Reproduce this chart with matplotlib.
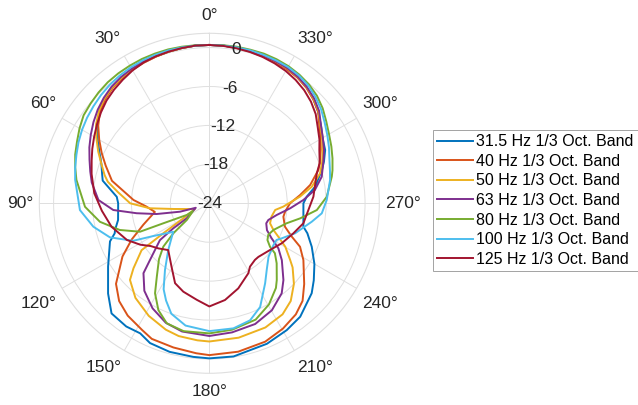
import numpy as np
import matplotlib.pyplot as plt

plt.rcParams['font.family'] = ['Liberation Sans', 'DejaVu Sans']

bands = ["31.5 Hz 1/3 Oct. Band", "40 Hz 1/3 Oct. Band", "50 Hz 1/3 Oct. Band",
         "63 Hz 1/3 Oct. Band", "80 Hz 1/3 Oct. Band", "100 Hz 1/3 Oct. Band",
         "125 Hz 1/3 Oct. Band"]
colors = ["#0072BD", "#D95319", "#EDB120", "#7E2F8E", "#77AC30", "#4DBEEE", "#A2142F"]

# angle (deg, counter-clockwise from front) and relative level (dB) per band
theta_315 = [0, 5, 10, 15, 20, 25, 30, 35, 40, 45, 50, 55, 60, 65, 70, 75, 78, 86, 90, 100.4,
             105.8, 107.6, 111, 122, 131.7, 138.4, 146, 152, 157, 165, 174, 180, 189, 202.3,
             211.4, 218.7, 228.7, 233.6, 240, 247, 253, 256, 270, 273.9, 278.9, 286.5, 290,
             294.7, 300, 305, 310, 315, 320, 325, 330, 335, 340, 345, 350, 355, 360]
level_315 = [0.4, 0.4, 0.3, 0.2, 0.1, 0.0, -0.2, -0.4, -0.7, -1.2, -1.9, -2.9, -4.1, -5.3,
             -6.3, -6.9, -7.2, -9.7, -9.95, -9.7, -8.9, -8.7, -7.6, -5.6, -3.1, -1.3, -1.1,
             -1.3, -0.6, -0.3, -0.2, -0.1, -0.1, -0.6, -1.1, -1.6, -3.0, -4.0, -5.3, -6.85,
             -8.2, -9.06, -9.5, -8.95, -7.5, -5.9, -5.2, -4.35, -3.85, -3.0, -2.1, -1.3,
             -0.65, -0.25, 0.0, 0.1, 0.2, 0.3, 0.35, 0.4, 0.4]

theta_40 = [0, 5, 10, 15, 20, 25, 30, 35, 40, 45, 50, 55, 60, 65, 70, 77, 87.5, 93, 99, 108,
            115, 121.5, 130.8, 137.3, 144, 152, 157, 166, 175, 180, 191, 202, 210.4, 217.9,
            223.7, 229.6, 238.9, 244.4, 248, 252.8, 259.7, 263.7, 270, 275.2, 280.3, 287, 290,
            295.6, 300, 305, 310, 315, 320, 325, 330, 335, 340, 345, 350, 355, 360]
level_40 = [0.4, 0.4, 0.3, 0.2, 0.05, -0.1, -0.25, -0.5, -0.8, -1.3, -2.0, -3.1, -4.4, -5.7,
            -7.0, -8.6, -12.3, -14.3, -15.5, -13.3, -10.8, -8.3, -5.0, -3.5, -2.6, -1.9, -1.3,
            -1.1, -0.8, -0.6, -0.7, -1.0, -1.6, -2.3, -3.2, -4.8, -7.07, -8.5, -10.3, -11.8,
            -12.4, -12.25, -11.56, -9.95, -8.2, -6.42, -5.9, -4.96, -4.2, -3.3, -2.1, -1.35,
            -0.75, -0.35, -0.15, 0.0, 0.1, 0.2, 0.3, 0.4, 0.4]

theta_50 = [0, 5, 10, 15, 20, 25, 30, 35, 40, 45, 50, 55, 60, 65, 70, 75, 78, 83, 90, 94.8,
            99, 111.7, 120, 123.1, 124.7, 130.6, 134, 142, 151.7, 161, 167, 175, 180, 192.3,
            204.3, 213.4, 219.8, 226.4, 232.4, 235, 240.2, 244.2, 247.4, 251.8, 257.9, 264.2,
            267.4, 274.2, 279.2, 285.2, 290, 295.2, 300, 305, 310, 315, 320, 325, 330, 335,
            340, 345, 350, 355, 360]
level_50 = [0.4, 0.4, 0.3, 0.2, 0.1, 0.0, -0.15, -0.4, -0.7, -1.15, -1.8, -2.7, -3.9, -5.1,
            -6.3, -7.3, -8.0, -9.8, -11.8, -14.8, -18.4, -21.6, -19.4, -15.5, -11.3, -8.6,
            -7.0, -5.5, -4.3, -3.4, -3.0, -2.8, -2.7, -2.8, -3.0, -3.5, -4.4, -6.0, -7.8,
            -8.8, -10.5, -12.2, -13.3, -14.15, -14.2, -13.8, -12.6, -10.0, -8.0, -6.3, -5.5,
            -4.68, -3.9, -3.1, -2.0, -1.25, -0.65, -0.25, 0.0, 0.1, 0.2, 0.3, 0.35, 0.4, 0.4]

theta_63 = [0, 5, 10, 15, 20, 25, 30, 35, 40, 45, 50, 55, 60, 65, 70, 75, 80, 88.3, 94, 97.8,
            101.5, 106, 108.3, 123.6, 124.8, 126.7, 133.7, 136.7, 143.4, 151.6, 160, 168, 180,
            190, 200.8, 210.3, 218.8, 224, 231.9, 236.9, 240.7, 245, 250.6, 254.2, 260.2,
            266.5, 272, 277.2, 283.3, 290, 295, 300, 305, 310, 315, 320, 325, 330, 335, 340,
            345, 350, 355, 360]
level_63 = [0.4, 0.4, 0.35, 0.3, 0.2, 0.1, -0.05, -0.25, -0.55, -1.0, -1.55, -2.2, -2.9, -3.6,
            -4.35, -5.0, -5.6, -6.9, -9.16, -12.7, -15.7, -19.3, -21.8, -19.8, -17.2, -14.5,
            -11.35, -9.2, -7.2, -5.6, -4.4, -3.8, -3.55, -3.8, -4.1, -4.9, -6.2, -7.56, -9.8,
            -11.3, -13.0, -14.2, -14.7, -14.55, -13.45, -11.5, -9.5, -7.6, -6.2, -5.3, -4.5,
            -3.8, -3.0, -1.9, -1.15, -0.6, -0.2, 0.05, 0.15, 0.25, 0.3, 0.35, 0.4, 0.4]

theta_80 = [0, 5, 10, 15, 20, 25, 30, 35, 40, 45, 50, 55, 60, 65, 70, 75, 80, 91.6, 99.6,
            106.6, 112.3, 113.5, 117.4, 115.3, 126.5, 129.8, 133.3, 138, 144.4, 148.9, 154.5,
            160.5, 168.6, 180, 190.2, 201.7, 210.5, 218.2, 221.3, 228.3, 232.7, 234.4, 237.7,
            241.8, 247.4, 255.5, 260.6, 266.4, 273.2, 282.3, 285, 290, 295, 300, 305, 310,
            315, 320, 325, 330, 335, 340, 345, 350, 355, 360]
level_80 = [0.4, 0.45, 0.5, 0.55, 0.55, 0.55, 0.5, 0.45, 0.35, 0.15, -0.1, -0.35, -0.9, -1.5,
            -2.0, -2.6, -3.2, -4.83, -6.9, -9.6, -12.45, -16.3, -20.1, -21.2, -19.7, -16.8,
            -14.25, -12.4, -10.1, -7.8, -5.76, -4.37, -3.9, -3.95, -4.2, -4.7, -5.9, -7.4,
            -8.25, -10.1, -11.3, -12.5, -13.4, -13.7, -13.3, -11.7, -9.8, -7.4, -5.87, -4.68,
            -4.35, -3.8, -3.25, -2.7, -2.0, -1.2, -0.55, -0.1, 0.2, 0.4, 0.5, 0.55, 0.5, 0.5,
            0.45, 0.4]

theta_100 = [0, 5, 10, 15, 20, 25, 30, 35, 40, 45, 50, 55, 60, 65, 70, 75, 80, 93, 101.4,
             108.9, 116.2, 120.3, 128.3, 138.7, 146.4, 152, 156, 161, 169, 180, 190.9, 199.2,
             206.1, 214.9, 221, 227.9, 236.9, 241.4, 244.2, 250.7, 259.8, 264.9, 271.6, 280.9,
             285, 290, 295, 300, 305, 310, 315, 320, 325, 330, 335, 340, 345, 350, 355, 360]
level_100 = [0.4, 0.4, 0.4, 0.4, 0.35, 0.3, 0.2, 0.05, -0.15, -0.4, -0.7, -1.0, -1.35, -1.75,
             -2.2, -2.6, -3.0, -4.03, -5.76, -7.8, -10.9, -14.0, -16.9, -14.4, -11.65, -9.0,
             -7.6, -6.0, -4.8, -4.3, -4.37, -4.9, -6.2, -8.97, -10.5, -11.7, -12.2, -12.2,
             -11.6, -10.0, -7.96, -6.6, -5.9, -5.05, -4.75, -4.3, -3.65, -3.0, -2.3, -1.5,
             -0.85, -0.3, 0.05, 0.25, 0.3, 0.35, 0.4, 0.4, 0.4, 0.4]

theta_125 = [0, 5, 10, 15, 20, 25, 30, 35, 40, 45, 50, 55, 60, 65, 70, 76, 85, 94, 103.5, 114,
             121, 126, 131.4, 138.7, 149.3, 156.8, 163.6, 172.6, 180, 189.2, 198.8, 209.1,
             212.7, 218.9, 222.5, 232.4, 241.1, 250.3, 258, 266.1, 273.6, 285.6, 290, 295.9,
             300, 305, 310, 315, 320, 325, 330, 335, 340, 345, 350, 355, 360]
level_125 = [0.4, 0.4, 0.3, 0.2, 0.1, -0.05, -0.35, -0.75, -1.15, -1.6, -2.2, -2.85, -3.5,
             -4.1, -4.7, -5.3, -6.2, -7.4, -8.5, -10.1, -11.6, -12.8, -13.5, -14.4, -12.6,
             -10.6, -9.8, -9.0, -8.1, -8.9, -10.15, -11.65, -12.4, -12.8, -12.8, -12.2, -11.25,
             -10.25, -9.18, -8.7, -7.93, -6.8, -5.9, -5.15, -4.4, -3.6, -2.6, -1.85, -1.25,
             -0.8, -0.45, -0.2, 0.0, 0.15, 0.25, 0.35, 0.4]

thetas = [theta_315, theta_40, theta_50, theta_63, theta_80, theta_100, theta_125]
levels = [level_315, level_40, level_50, level_63, level_80, level_100, level_125]

r_ticks = [-24, -18, -12, -6, 0]
r_min, r_max = -24, 2.2
grid_col = '#dfdfdf'
text_col = '#262626'

fig = plt.figure(figsize=(6.38, 4.05), dpi=100)
ax = fig.add_axes([0.0616, 0.0783, 0.533, 0.8395], projection='polar')
ax.set_theta_zero_location('N')
ax.set_theta_direction(1)
ax.set_rlim(r_min, r_max)

ax.set_xticks(np.deg2rad(np.arange(0, 360, 30)))
ax.set_xticklabels([])
ax.set_yticks(r_ticks)
ax.set_yticklabels([])
ax.grid(True, color=grid_col, linewidth=0.7)
ax.spines['polar'].set_color(grid_col)
ax.spines['polar'].set_linewidth(0.8)

for th, lv, col, name in zip(thetas, levels, colors, bands):
    ax.plot(np.deg2rad(th), lv, color=col, linewidth=1.4, label=name, zorder=3)

# radial tick labels sit on the rings, a little clockwise of the front
for r in r_ticks:
    ax.text(np.deg2rad(350), r, str(r), ha='center', va='center', fontsize=12.5,
            color=text_col, zorder=5)

# angle labels: nearest corner of the text box just outside the outer ring
for a in range(0, 360, 30):
    lab = f"{a}\u00b0"
    t = np.deg2rad(a)
    ux, uy = -np.sin(t), np.cos(t)
    sx = np.sign(np.round(ux, 6))
    sy = np.sign(np.round(uy, 6))
    half_w = 4.5 * len(lab)
    ox = 6 * ux + half_w * sx
    oy = 6 * uy + 12 * sy
    ax.annotate(lab, xy=(t, r_max), xytext=(ox, oy), textcoords='offset pixels',
                ha='center', va='center', fontsize=12.5, color=text_col,
                annotation_clip=False)

leg = ax.legend(loc='upper left', bbox_to_anchor=(433 / 638, 1 - 130 / 405),
                bbox_transform=fig.transFigure, fontsize=11.5, frameon=True, fancybox=False,
                borderaxespad=0, borderpad=0.26, handlelength=2.25, handletextpad=0.2,
                labelspacing=0.29)
leg.get_frame().set_edgecolor('#8c8c8c')
leg.get_frame().set_linewidth(0.7)

fig.savefig('out.png', dpi=100)
